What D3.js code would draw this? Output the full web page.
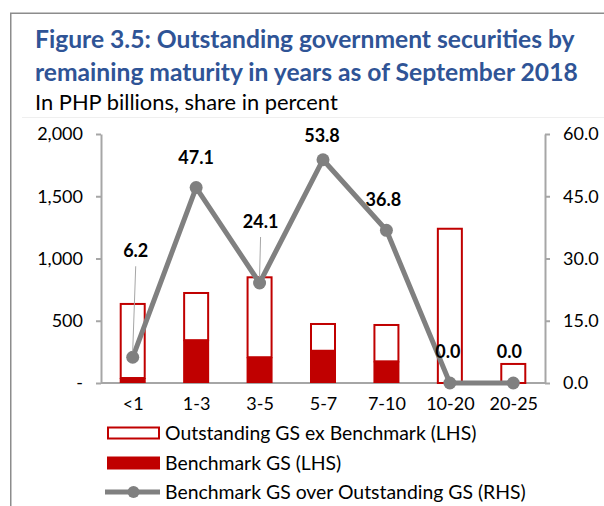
<!DOCTYPE html>
<html>
<head>
<meta charset="utf-8">
<script src="https://cdn.jsdelivr.net/npm/d3@7"></script>
<style>
  html, body { margin: 0; padding: 0; background: #fff; }
  svg { display: block; font-family: Lato, "Noto Sans", sans-serif; }
</style>
</head>
<body>
<svg id="chart" width="604" height="506"></svg>
<script>
// Remaining maturity buckets (years)
const categories = ["<1", "1-3", "3-5", "5-7", "7-10", "10-20", "20-25"];
// PHP billions
const benchmarkGS = [40, 344, 207, 259, 174, 0, 0];
const exBenchmarkGS = [603, 387, 650, 223, 300, 1247, 161];
// Benchmark share of outstanding GS, percent
const benchmarkShare = [6.2, 47.1, 24.1, 53.8, 36.8, 0.0, 0.0];

const leftTicks = [0, 500, 1000, 1500, 2000];
const rightTicks = [0, 15, 30, 45, 60];

const titleLines = [
  "Figure 3.5: Outstanding government securities by",
  "remaining maturity in years as of September 2018"
];
const subtitle = "In PHP billions, share in percent";
const legendLabels = [
  "Outstanding GS ex Benchmark (LHS)",
  "Benchmark GS (LHS)",
  "Benchmark GS over Outstanding GS (RHS)"
];

const RED = "#C00000";
const GREY = "#808080";
const BLUE = "#2F5496";

const svg = d3.select("#chart");

// scale a text element's font so that it spans the given width
function fitWidth(sel, width) {
  const node = sel.node();
  const fs = parseFloat(sel.attr("font-size"));
  const w = node.getComputedTextLength();
  const size = fs * width / w;
  sel.attr("font-size", size);
  return size;
}

// panel frame
svg.append("path")
  .attr("d", "M10.75,506 V13.25 H604")
  .attr("fill", "none").attr("stroke", "#8c8c8c").attr("stroke-width", 1.5);

// faint separator below the heading
svg.append("line")
  .attr("x1", 22).attr("x2", 604).attr("y1", 117.5).attr("y2", 117.5)
  .attr("stroke", "#efefef").attr("stroke-width", 1);

// title block
const t1 = svg.append("text")
  .attr("x", 35).attr("y", 48)
  .attr("fill", BLUE).attr("font-weight", 700).attr("font-size", 22)
  .text(titleLines[0]);
const titleSize = fitWidth(t1, 540);
svg.append("text")
  .attr("x", 35).attr("y", 81)
  .attr("fill", BLUE).attr("font-weight", 700).attr("font-size", titleSize)
  .text(titleLines[1]);

const sub = svg.append("text")
  .attr("x", 35).attr("y", 110)
  .attr("fill", "#000").attr("font-size", 19)
  .text(subtitle);
fitWidth(sub, 303);

const plot = { left: 101, right: 545, top: 134, bottom: 383 };

const x = d3.scaleBand().domain(categories)
  .range([plot.left, plot.right]).paddingInner(0.59).paddingOuter(0.295);
const xc = d3.scalePoint().domain(categories)
  .range([plot.left, plot.right]).padding(0.5);
const yL = d3.scaleLinear().domain([0, 2000]).range([plot.bottom, plot.top]);
const yR = d3.scaleLinear().domain([0, 60]).range([plot.bottom, plot.top]);

const fmtL = v => v === 0 ? "-" : d3.format(",")(v);
const fmtR = d3.format(".1f");

// left axis
const gL = svg.append("g").attr("transform", `translate(${plot.left},0)`)
  .call(d3.axisLeft(yL).tickValues(leftTicks).tickFormat(fmtL)
    .tickSizeOuter(0).tickSizeInner(5).tickPadding(13));
// right axis
const gR = svg.append("g").attr("transform", `translate(${plot.right},0)`)
  .call(d3.axisRight(yR).tickValues(rightTicks).tickFormat(fmtR)
    .tickSizeOuter(0).tickSizeInner(5).tickPadding(13));
// category axis
const gB = svg.append("g").attr("transform", `translate(0,${plot.bottom})`)
  .call(d3.axisBottom(xc).tickSize(0).tickPadding(21).tickSizeOuter(0));

[gL, gR, gB].forEach(g => {
  g.select(".domain").attr("stroke", "#a6a6a6").attr("stroke-width", 2);
  g.selectAll(".tick line").attr("stroke", "#a6a6a6").attr("stroke-width", 2);
  g.selectAll(".tick text").attr("fill", "#000").attr("font-size", 18)
    .attr("font-family", "Lato, 'Noto Sans', sans-serif");
});
gB.select(".domain").attr("d", `M${plot.left},0H${plot.right}`);
gB.selectAll(".tick text").attr("dy", "0.32em");

// stacked bars
const rows = categories.map((c, i) => ({
  c, bench: benchmarkGS[i], ex: exBenchmarkGS[i]
}));
const barG = svg.append("g");
barG.selectAll("rect.bench").data(rows).join("rect")
  .attr("class", "bench")
  .attr("x", d => x(d.c)).attr("width", x.bandwidth())
  .attr("y", d => yL(d.bench)).attr("height", d => yL(0) - yL(d.bench))
  .attr("fill", RED);
barG.selectAll("rect.ex").data(rows).join("rect")
  .attr("class", "ex")
  .attr("x", d => x(d.c) + 1).attr("width", x.bandwidth() - 2)
  .attr("y", d => yL(d.bench + d.ex) + 1)
  .attr("height", d => yL(d.bench) - yL(d.bench + d.ex) - 1)
  .attr("fill", "#fff").attr("stroke", RED).attr("stroke-width", 2);

// share line
const pts = categories.map((c, i) => ({ c, v: benchmarkShare[i] }));
svg.append("path").datum(pts)
  .attr("fill", "none").attr("stroke", GREY).attr("stroke-width", 5)
  .attr("stroke-linejoin", "round")
  .attr("d", d3.line().x(d => xc(d.c)).y(d => yR(d.v)));
svg.selectAll("circle.pt").data(pts).join("circle")
  .attr("class", "pt")
  .attr("cx", d => xc(d.c)).attr("cy", d => yR(d.v)).attr("r", 6.5)
  .attr("fill", GREY);

// data labels: [dx, dy] offsets from each point, with optional leader line
const labelOffsets = [[3, -100], [0, -24], [1, -55], [-1, -18], [-3, -24], [-2, -25], [-4, -25]];
const leaders = [true, false, true, false, false, false, false];
pts.forEach((p, i) => {
  const px = xc(p.c), py = yR(p.v);
  const [dx, dy] = labelOffsets[i];
  if (leaders[i]) {
    svg.append("line")
      .attr("x1", px + dx).attr("y1", py + dy + 9)
      .attr("x2", px).attr("y2", py - 6)
      .attr("stroke", "#a6a6a6").attr("stroke-width", 1);
  }
  svg.append("text")
    .attr("x", px + dx).attr("y", py + dy)
    .attr("text-anchor", "middle")
    .attr("font-weight", 700).attr("font-size", 18).attr("fill", "#000")
    .text(fmtR(p.v));
});

// legend
const lg = svg.append("g");
const lx = 107, lw = 53, ly = [433, 463, 492];
lg.append("rect").attr("x", lx + 1).attr("y", ly[0] - 5.5).attr("width", lw - 2).attr("height", 11)
  .attr("fill", "#fff").attr("stroke", RED).attr("stroke-width", 2);
lg.append("rect").attr("x", lx).attr("y", ly[1] - 6.5).attr("width", lw).attr("height", 13)
  .attr("fill", RED);
lg.append("line").attr("x1", lx - 2).attr("x2", lx + lw).attr("y1", ly[2]).attr("y2", ly[2])
  .attr("stroke", GREY).attr("stroke-width", 5);
lg.append("circle").attr("cx", lx + lw / 2).attr("cy", ly[2]).attr("r", 6).attr("fill", GREY);
lg.selectAll("text").data(legendLabels).join("text")
  .attr("x", 165).attr("y", (d, i) => ly[i]).attr("dy", "0.36em")
  .attr("font-size", 19.4).attr("fill", "#000")
  .text(d => d);
</script>
</body>
</html>
